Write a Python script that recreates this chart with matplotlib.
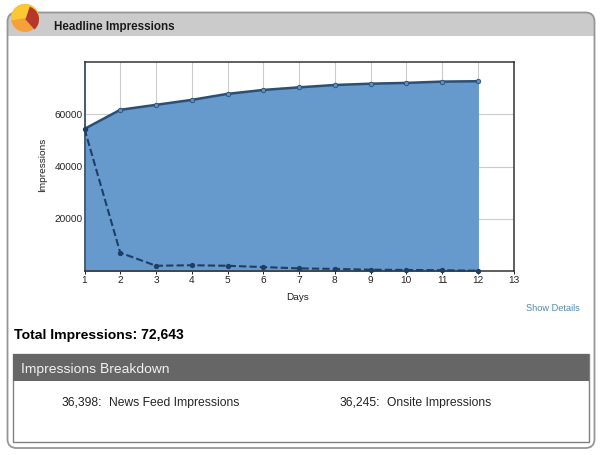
import matplotlib
matplotlib.use("Agg")
import matplotlib.pyplot as plt
from matplotlib.patches import FancyBboxPatch, Rectangle, Wedge, Circle

plt.rcParams["font.family"] = ["Liberation Sans", "DejaVu Sans"]
plt.rcParams["text.hinting"] = "native"

days = [1, 2, 3, 4, 5, 6, 7, 8, 9, 10, 11, 12]
total_impressions = [54400, 61700, 63600, 65500, 67800, 69300, 70300, 71200, 71700, 72000, 72500, 72643]
daily_impressions = [54400, 7000, 2000, 2200, 2000, 1500, 1000, 800, 500, 400, 300, 100]
x_ticks = list(range(1, 14))
y_ticks = [20000, 40000, 60000]

W, H = 600, 455
fig = plt.figure(figsize=(6, 4.55), dpi=100, facecolor="white")

# background layer in pixel coords, y pointing down
bg = fig.add_axes([0, 0, 1, 1])
bg.set_xlim(0, W)
bg.set_ylim(H, 0)
bg.axis("off")

# outer panel
bg.add_patch(FancyBboxPatch((7.5, 12.5), 587, 435.5, boxstyle="round,pad=0,rounding_size=9",
                            fc="white", ec="none"))
bg.add_patch(FancyBboxPatch((7.5, 12.5), 587, 23, boxstyle="round,pad=0,rounding_size=9",
                            fc="#cbcbcb", ec="none"))
bg.add_patch(Rectangle((8, 28), 586, 7.5, fc="#cbcbcb", ec="none"))
bg.add_patch(FancyBboxPatch((7.5, 12.5), 587, 435.5, boxstyle="round,pad=0,rounding_size=9",
                            fc="none", ec="#969696", lw=1.3))

# logo
bg.add_patch(Circle((25, 18), 14, fc="#f6a03a", ec="none"))
bg.add_patch(Wedge((25, 18), 14, 170, 350, fc="#f9c832", ec="none"))
bg.add_patch(Wedge((25.5, 19.5), 13.5, -72, 48, fc="#b5382a", ec="none"))

bg.text(54, 29.5, "Headline Impressions", fontsize=8.4, fontweight="bold",
        color="#1a1a1a", va="baseline", ha="left")
bg.text(580, 311, "Show Details", fontsize=6.7, color="#4f86a8", va="baseline", ha="right")
bg.text(14, 339.5, "Total Impressions: 72,643", fontsize=10.1, fontweight="bold",
        color="black", va="baseline", ha="left")

# breakdown box
bg.add_patch(Rectangle((13, 354), 576, 88, fc="white", ec="#808080", lw=1))
bg.add_patch(Rectangle((13, 354), 576, 27, fc="#666666", ec="none"))
bg.text(21, 373.5, "Impressions Breakdown", fontsize=10, color="#f0f0f0", va="baseline", ha="left")
bg.text(62, 405.5, "36,398:", fontsize=8.7, color="#222222", va="baseline", ha="left")
bg.text(109, 405.5, "News Feed Impressions", fontsize=8.7, color="#222222", va="baseline", ha="left")
bg.text(340, 405.5, "36,245:", fontsize=8.7, color="#222222", va="baseline", ha="left")
bg.text(387, 405.5, "Onsite Impressions", fontsize=8.7, color="#222222", va="baseline", ha="left")

# chart
left, right, top, bottom = 84.5, 513.5, 62, 271
ax = fig.add_axes([left / W, 1 - bottom / H, (right - left) / W, (bottom - top) / H])
ax.set_xlim(1, 13)
ax.set_ylim(0, 80000)
ax.fill_between(days, total_impressions, color="#6699cc", zorder=2)
ax.plot(days, total_impressions, color="#2c4f73", lw=1.8, marker="o", ms=3.2,
        mfc="#5f8fc0", mec="#2c4f73", mew=0.6, zorder=3)
ax.plot(days, daily_impressions, color="#1d3f66", lw=1.5, ls=(0, (3.5, 1.5)), marker="o", ms=2.8,
        mfc="#1d3f66", mec="#1d3f66", zorder=4, clip_on=False)
ax.grid(True, color="#cccccc", lw=0.8, zorder=1)
ax.set_axisbelow(True)
ax.set_xticks(x_ticks)
ax.set_yticks(y_ticks)
ax.tick_params(axis="x", labelsize=7.2, colors="#222222", length=2, width=0.7, pad=6.6)
ax.tick_params(axis="y", labelsize=7.2, colors="#222222", length=0, pad=1.5)
for lab in ax.get_xticklabels():
    lab.set_va("baseline")
for lab in ax.get_yticklabels():
    lab.set_va("center_baseline")
bg.text(298, 299.5, "Days", fontsize=7.2, color="#222222", va="baseline", ha="center")
bg.text(47, 165, "Impressions", fontsize=7.2, color="#222222", rotation=90,
        va="center", ha="right")
for s in ax.spines.values():
    s.set_color("#333333")
    s.set_linewidth(1.1)
ax.spines["left"].set_color("#4a5a70")
ax.spines["left"].set_linewidth(1.4)

fig.savefig("out.png", dpi=100)
